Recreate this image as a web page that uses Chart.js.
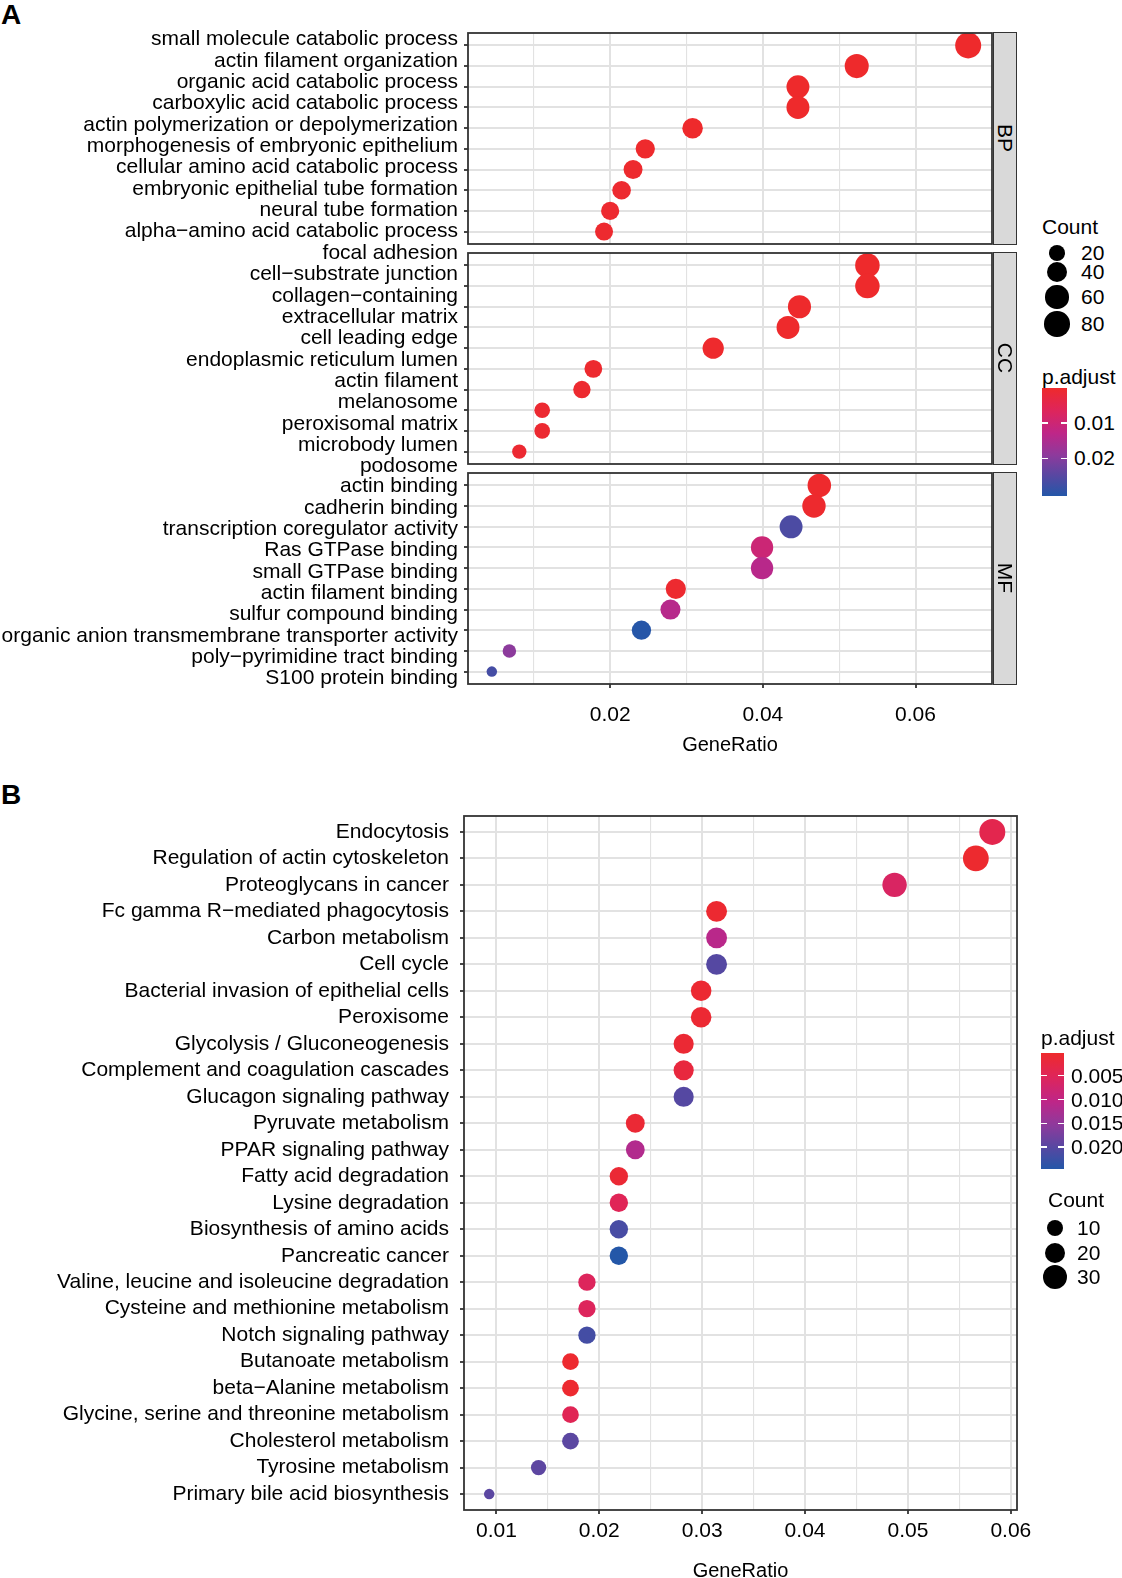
<!DOCTYPE html>
<html lang="en">
<head>
<meta charset="utf-8">
<title>GO / KEGG enrichment dot plots</title>
<script src="https://cdn.jsdelivr.net/npm/chart.js@4.4.1/dist/chart.umd.min.js"></script>
<style>
  html, body { margin: 0; padding: 0; background: #fff; }
  body { position: relative; width: 1122px; height: 1578px; overflow: hidden;
         font-family: "Liberation Sans", Arial, Helvetica, sans-serif; color: #000; }
  canvas { position: absolute; left: 0; }
  .txt { position: absolute; font-size: 21px; line-height: 24px; white-space: nowrap; }
  .tag { position: absolute; font-size: 28px; font-weight: bold; line-height: 30px; }
  .strip { position: absolute; background: #d9d9d9; border: 1.8px solid #333; box-sizing: border-box; }
  .strip span { position: absolute; left: 50%; top: 50%; font-size: 21px; line-height: 21px;
                white-space: nowrap; transform: translate(-50%, -50%) rotate(90deg); }
  .bar, .tick, .dot { position: absolute; }
  .tick { height: 1.5px; background: #fff; }
  .dot { border-radius: 50%; background: #000; }
</style>
</head>
<body>
<div class="tag" style="left:1px;top:0px">A</div>
<div class="tag" style="left:1px;top:780px">B</div>
<script>
// ---------- panel A: GO terms ----------
const bpTerms = ['small molecule catabolic process', 'actin filament organization',
  'organic acid catabolic process', 'carboxylic acid catabolic process',
  'actin polymerization or depolymerization', 'morphogenesis of embryonic epithelium',
  'cellular amino acid catabolic process', 'embryonic epithelial tube formation',
  'neural tube formation', 'alpha\u2212amino acid catabolic process'];
const bpRatio = [0.0669, 0.0523, 0.0446, 0.0446, 0.0308, 0.0246, 0.0230, 0.0215, 0.0200, 0.0192];
const bpCount = [87, 68, 58, 58, 40, 32, 30, 28, 26, 25];
const bpPadj  = [1.2e-9, 3.5e-6, 2.1e-8, 2.1e-8, 4.4e-5, 1.9e-4, 3.3e-4, 5.0e-4, 6.1e-4, 4.6e-4];

const ccTerms = ['focal adhesion', 'cell\u2212substrate junction',
  'collagen\u2212containing\nextracellular matrix', 'cell leading edge',
  'endoplasmic reticulum lumen', 'actin filament', 'melanosome',
  'peroxisomal matrix', 'microbody lumen', 'podosome'];
const ccRatio = [0.0537, 0.0537, 0.0448, 0.0433, 0.0335, 0.0178, 0.0163, 0.0111, 0.0111, 0.0081];
const ccCount = [72, 72, 60, 58, 45, 24, 22, 15, 15, 11];
const ccPadj  = [8.1e-9, 9.5e-9, 2.4e-6, 1.3e-6, 1.7e-4, 4.2e-4, 5.5e-4, 6.2e-4, 6.2e-4, 7.8e-4];

const mfTerms = ['actin binding', 'cadherin binding', 'transcription coregulator activity',
  'Ras GTPase binding', 'small GTPase binding', 'actin filament binding',
  'sulfur compound binding', 'organic anion transmembrane transporter activity',
  'poly\u2212pyrimidine tract binding', 'S100 protein binding'];
const mfRatio = [0.0474, 0.0467, 0.0437, 0.0399, 0.0399, 0.0286, 0.0279, 0.0241, 0.0068, 0.0045];
const mfCount = [63, 62, 58, 53, 53, 38, 37, 32, 9, 6];
const mfPadj  = [1.1e-4, 2.4e-4, 0.0262, 0.0102, 0.0136, 6.0e-4, 0.0138, 0.0305, 0.0193, 0.0270];

// ---------- panel B: KEGG pathways ----------
const keggTerms = ['Endocytosis', 'Regulation of actin cytoskeleton', 'Proteoglycans in cancer',
  'Fc gamma R\u2212mediated phagocytosis', 'Carbon metabolism', 'Cell cycle',
  'Bacterial invasion of epithelial cells', 'Peroxisome', 'Glycolysis / Gluconeogenesis',
  'Complement and coagulation cascades', 'Glucagon signaling pathway', 'Pyruvate metabolism',
  'PPAR signaling pathway', 'Fatty acid degradation', 'Lysine degradation',
  'Biosynthesis of amino acids', 'Pancreatic cancer', 'Valine, leucine and isoleucine degradation',
  'Cysteine and methionine metabolism', 'Notch signaling pathway', 'Butanoate metabolism',
  'beta\u2212Alanine metabolism', 'Glycine, serine and threonine metabolism',
  'Cholesterol metabolism', 'Tyrosine metabolism', 'Primary bile acid biosynthesis'];
const keggRatio = [0.0582, 0.0566, 0.0487, 0.0314, 0.0314, 0.0314, 0.0299, 0.0299, 0.0282,
  0.0282, 0.0282, 0.0235, 0.0235, 0.0219, 0.0219, 0.0219, 0.0219, 0.0188, 0.0188, 0.0188,
  0.0172, 0.0172, 0.0172, 0.0172, 0.0141, 0.0093];
const keggCount = [37, 36, 31, 20, 20, 20, 19, 19, 18, 18, 18, 15, 15, 14, 14, 14, 14,
  12, 12, 12, 11, 11, 11, 11, 9, 6];
const keggPadj = [0.0039, 0.0006, 0.0061, 0.0008, 0.0110, 0.0202, 0.0009, 0.0010, 0.0011,
  0.0022, 0.0202, 0.0012, 0.0117, 0.0012, 0.0049, 0.0214, 0.0246, 0.0054, 0.0054, 0.0217,
  0.0007, 0.0007, 0.0047, 0.0197, 0.0195, 0.0197];

// scales, breaks
const ticksA = [0.01, 0.02, 0.03, 0.04, 0.05, 0.06];
const majorA = [0.02, 0.04, 0.06];
const ticksB = [0.01, 0.015, 0.02, 0.025, 0.03, 0.035, 0.04, 0.045, 0.05, 0.055, 0.06];
const majorB = [0.01, 0.02, 0.03, 0.04, 0.05, 0.06];
const ratioLimA = [0.00138, 0.07002];
const ratioLimB = [0.00685, 0.0606];
const countLimA = [6, 87];
const countLimB = [6, 37];
const countBreaksA = [20, 40, 60, 80];
const countBreaksB = [10, 20, 30];
const padjLimA = [0, 0.0307];
const padjLimB = [0.00023, 0.0246];
const padjBreaksA = [0.01, 0.02];
const padjBreaksB = [0.005, 0.010, 0.015, 0.020];

// ---------- styling helpers ----------
const FONT = '"Liberation Sans", Arial, Helvetica, sans-serif';
const GRID = '#e2e2e2';
const DARK = '#333333';
const dotRange = [10.5, 26];   // px diameter
const rampStops = [[0, '#EE2A2C'], [0.2, '#DF2559'], [0.42, '#BE2688'],
                   [0.62, '#8E3A9C'], [0.82, '#5548A2'], [1, '#2457A8']];

function hex2rgb(h) { return [1, 3, 5].map(i => parseInt(h.substr(i, 2), 16)); }
function ramp(t) {
  t = Math.max(0, Math.min(1, t));
  for (let i = 1; i < rampStops.length; i++) {
    if (t <= rampStops[i][0]) {
      const a = rampStops[i - 1], b = rampStops[i];
      const f = (t - a[0]) / (b[0] - a[0]);
      const ca = hex2rgb(a[1]), cb = hex2rgb(b[1]);
      return 'rgb(' + ca.map((v, k) => Math.round(v + (cb[k] - v) * f)).join(',') + ')';
    }
  }
  return rampStops[rampStops.length - 1][1];
}
function padjColour(p, lim) { return ramp((p - lim[0]) / (lim[1] - lim[0])); }
// area scale like ggplot's scale_size
function dotSize(c, lim) {
  const t = Math.max(0, (c - lim[0]) / (lim[1] - lim[0]));
  return dotRange[0] + (dotRange[1] - dotRange[0]) * Math.sqrt(t);
}

const panelBox = {
  id: 'panelBox',
  afterDraw(chart) {
    const a = chart.chartArea, c = chart.ctx;
    c.save();
    c.strokeStyle = DARK;
    c.lineWidth = 1.8;
    c.strokeRect(a.left, a.top, a.right - a.left, a.bottom - a.top);
    c.restore();
  }
};

const PAD_RIGHT = 30;  // room for the last x label so the panel keeps its width

function dotPlot(o) {
  const cv = document.createElement('canvas');
  cv.width = o.right + PAD_RIGHT;
  cv.height = o.padTop + o.h + o.axisH + o.padBottom;
  cv.style.top = (o.top - o.padTop) + 'px';
  document.body.appendChild(cv);
  const isMajor = v => o.major.some(m => Math.abs(m - v) < 1e-9);
  const n = o.terms.length;
  const rowPx = o.h / (n + 0.2);
  // text lines of the y labels (a wrapped term gives two lines)
  const lines = [].concat(...o.terms.map(t => t.split('\n')));
  const step = o.labelStep || rowPx;
  const labelRow = j => (o.labelStart + j * step) / rowPx;
  const radii = o.count.map(c => dotSize(c, o.countLim) / 2);
  return new Chart(cv, {
    type: 'scatter',
    data: {
      datasets: [{
        data: o.ratio.map((x, i) => ({ x: x, y: i })),
        pointRadius: radii,
        pointHoverRadius: radii,
        pointBackgroundColor: o.padj.map(p => padjColour(p, o.padjLim)),
        pointBorderWidth: 0,
        pointHoverBorderWidth: 0
      }]
    },
    options: {
      responsive: false,
      animation: false,
      events: [],
      layout: { autoPadding: false,
                padding: { top: o.padTop, bottom: o.padBottom, left: 0, right: PAD_RIGHT } },
      plugins: { legend: { display: false }, tooltip: { enabled: false } },
      scales: {
        x: {
          type: 'linear',
          min: o.xLim[0],
          max: o.xLim[1],
          afterBuildTicks: s => { s.ticks = o.xTicks.map(v => ({ value: v })); },
          afterFit: s => { s.height = o.axisH; },
          border: { display: false },
          grid: {
            color: GRID,
            lineWidth: ctx => (ctx.tick && isMajor(ctx.tick.value)) ? 2 : 1.1,
            drawTicks: o.showX,
            tickLength: 4,
            tickWidth: 1.8,
            tickColor: ctx => (ctx.tick && isMajor(ctx.tick.value)) ? DARK : 'rgba(0,0,0,0)'
          },
          ticks: {
            display: o.showX,
            autoSkip: false,
            maxRotation: 0,
            minRotation: 0,
            padding: o.xPad,
            color: '#000',
            font: { family: FONT, size: 21 },
            callback: v => isMajor(v) ? v.toFixed(2) : ''
          },
          title: {
            display: o.showX,
            text: 'GeneRatio',
            padding: 0,
            color: '#000',
            font: { family: FONT, size: 20 }
          }
        },
        // rows: grid lines and tick marks
        y: {
          type: 'linear',
          reverse: true,
          weight: 0,
          min: -0.6,
          max: n - 0.4,
          afterBuildTicks: s => { s.ticks = o.terms.map((t, i) => ({ value: i })); },
          afterFit: s => { s.width = 4; },
          border: { display: false },
          grid: { color: GRID, lineWidth: 2, tickLength: 4, tickWidth: 1.8, tickColor: DARK },
          ticks: { display: false, autoSkip: false }
        },
        // row labels, set as lines of text the way the original was typeset
        yText: {
          type: 'linear',
          position: 'left',
          reverse: true,
          weight: 1,
          min: -0.6,
          max: n - 0.4,
          afterBuildTicks: s => { s.ticks = lines.map((t, j) => ({ value: labelRow(j) })); },
          afterFit: s => { s.width = o.left - 4; },
          border: { display: false },
          grid: { display: false, drawTicks: false },
          ticks: {
            autoSkip: false,
            padding: o.yPad,
            color: '#000',
            font: { family: FONT, size: 21 },
            callback: (v, j) => lines[j]
          }
        }
      }
    },
    plugins: [panelBox]
  });
}

// label lines are spaced a little wider than the rows in panel A
const geoA = { left: 468, right: 992, h: 211, lineStep: 21.35 };
const facets = [
  { id: 'BP', top: 33,  terms: bpTerms, ratio: bpRatio, count: bpCount, padj: bpPadj, labelStart: -6 },
  { id: 'CC', top: 253, terms: ccTerms, ratio: ccRatio, count: ccCount, padj: ccPadj, labelStart: -12.3 },
  { id: 'MF', top: 473, terms: mfTerms, ratio: mfRatio, count: mfCount, padj: mfPadj, labelStart: 1 }
];
facets.forEach((f, k) => {
  const last = k === facets.length - 1;
  dotPlot(Object.assign({}, f, {
    left: geoA.left, right: geoA.right, h: geoA.h, labelStep: geoA.lineStep,
    padTop: 26, padBottom: last ? 0 : 26, axisH: last ? 73 : 0,
    showX: last, xPad: 15, yPad: 6,
    xLim: ratioLimA, xTicks: ticksA, major: majorA,
    countLim: countLimA, padjLim: padjLimA
  }));
});

dotPlot({
  top: 816, left: 464, right: 1017, h: 694,
  padTop: 26, padBottom: 0, axisH: 73,
  showX: true, xPad: 5, yPad: 11, labelStart: 0,
  terms: keggTerms, ratio: keggRatio, count: keggCount, padj: keggPadj,
  xLim: ratioLimB, xTicks: ticksB, major: majorB,
  countLim: countLimB, padjLim: padjLimB
});

// ---------- strips and legends (html) ----------
function addText(str, x, cy) {
  const d = document.createElement('div');
  d.className = 'txt';
  d.textContent = str;
  d.style.left = x + 'px';
  d.style.top = (cy - 12) + 'px';
  document.body.appendChild(d);
  return d;
}
facets.forEach(f => {
  const s = document.createElement('div');
  s.className = 'strip';
  Object.assign(s.style, { left: (geoA.right + 0.5) + 'px', top: (f.top - 0.9) + 'px',
                           width: '24px', height: (geoA.h + 1.8) + 'px' });
  const t = document.createElement('span');
  t.textContent = f.id;
  s.appendChild(t);
  document.body.appendChild(s);
});

const gradientCss = 'linear-gradient(to bottom,' +
  rampStops.map(s => s[1] + ' ' + (s[0] * 100) + '%').join(',') + ')';

function sizeLegend(o) {
  addText('Count', o.x, o.titleY);
  o.breaks.forEach((c, i) => {
    const d = dotSize(c, o.lim);
    const el = document.createElement('div');
    el.className = 'dot';
    Object.assign(el.style, { width: d + 'px', height: d + 'px',
                              left: (o.dotX - d / 2) + 'px', top: (o.rows[i] - d / 2) + 'px' });
    document.body.appendChild(el);
    addText(String(c), o.labelX, o.rows[i]);
  });
}
function colourBar(o) {
  addText('p.adjust', o.x, o.titleY);
  const bar = document.createElement('div');
  bar.className = 'bar';
  Object.assign(bar.style, { left: o.x + 'px', top: o.top + 'px', width: o.w + 'px',
                             height: o.h + 'px', background: gradientCss });
  document.body.appendChild(bar);
  o.breaks.forEach(v => {
    const y = o.top + (v - o.lim[0]) / (o.lim[1] - o.lim[0]) * o.h;
    [0, o.w - 6].forEach(dx => {
      const t = document.createElement('div');
      t.className = 'tick';
      Object.assign(t.style, { left: (o.x + dx) + 'px', top: (y - 0.75) + 'px', width: '6px' });
      document.body.appendChild(t);
    });
    addText(v.toFixed(o.digits), o.labelX, y);
  });
}

sizeLegend({ x: 1042, titleY: 227, dotX: 1057, labelX: 1081,
             rows: [253, 272, 297, 324], breaks: countBreaksA, lim: countLimA });
colourBar({ x: 1042, titleY: 377, top: 388, w: 25, h: 108, labelX: 1074,
            breaks: padjBreaksA, lim: padjLimA, digits: 2 });
colourBar({ x: 1041, titleY: 1038, top: 1053, w: 23, h: 116, labelX: 1071,
            breaks: padjBreaksB, lim: padjLimB, digits: 3 });
sizeLegend({ x: 1048, titleY: 1200, dotX: 1055, labelX: 1077,
             rows: [1228, 1253, 1277], breaks: countBreaksB, lim: countLimB });
</script>
</body>
</html>
